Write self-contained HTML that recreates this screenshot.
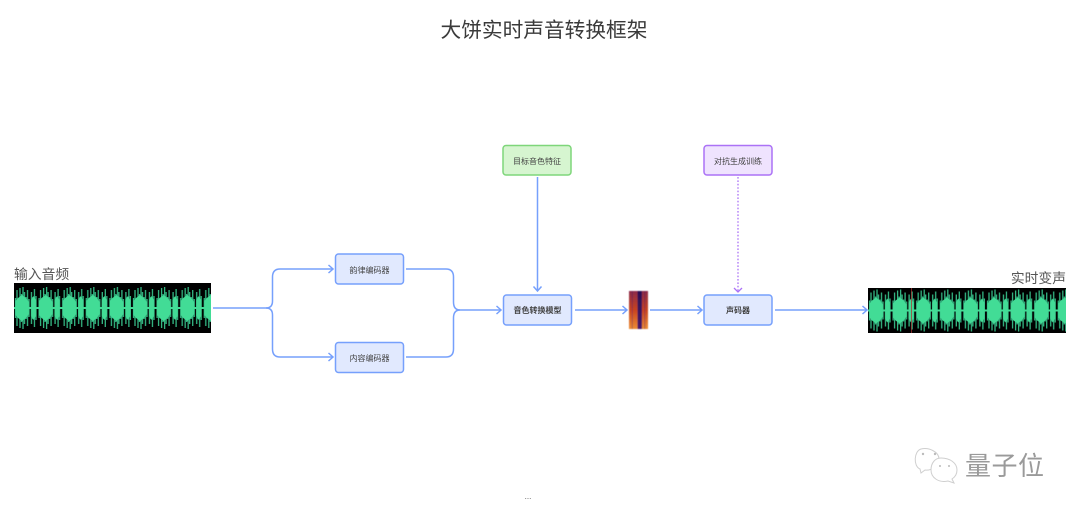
<!DOCTYPE html>
<html><head><meta charset="utf-8">
<style>
html,body{margin:0;padding:0;background:#fff;width:1080px;height:514px;overflow:hidden}
svg{display:block}
text{font-family:"Liberation Sans","Noto Sans CJK SC",sans-serif}
.n{font-size:8px;fill:#444;text-anchor:middle}
.c{fill:none;stroke:#76a0fc;stroke-width:1.5}
.b{fill:#e1e9fe;stroke:#76a0fc;stroke-width:1.5}
</style></head><body>
<svg width="1080" height="514" viewBox="0 0 1080 514" xmlns="http://www.w3.org/2000/svg">
<defs>
<filter id="bl" x="-5%" y="-5%" width="110%" height="110%"><feGaussianBlur stdDeviation="0.35"/></filter>
<filter id="bl2" x="-10%" y="-5%" width="120%" height="110%"><feGaussianBlur stdDeviation="0.5"/></filter>
<g id="burst">
<path d="M1.500 15V35M3 7V43M4.500 15V35M6 5V45M7.500 11V39M9 4V46M10.500 9V41M12 14V36M13.500 7V43M15 16V34M17.500 9V41M19 14V36M20.500 6V44M22 13V37" stroke="#34b884" stroke-width="1.300" fill="none"/>
<path d="M1.500 18L4 15L8 12L12 15L15 19V31L12 35L8 38L4 35L1.500 32ZM17 17L19.500 13L22 17V33L19.500 37L17 33Z" fill="#42dc96"/>
<rect y="24" width="24" height="2" fill="#42dc96"/>
</g>
<pattern id="w1" x="14" y="283" width="23.6" height="50" patternUnits="userSpaceOnUse">
<rect width="24" height="50" fill="#000"/>
<use href="#burst"/>
</pattern>
<pattern id="w2" x="868" y="285.500" width="23.6" height="50" patternUnits="userSpaceOnUse">
<rect width="24" height="50" fill="#000"/>
<use href="#burst"/>
</pattern>
<linearGradient id="s1" x1="0" y1="0" x2="0" y2="1"><stop offset="0" stop-color="#8c2a4a"/><stop offset=".5" stop-color="#c8441f"/><stop offset="1" stop-color="#ec8c34"/></linearGradient>
<linearGradient id="s2" x1="0" y1="0" x2="0" y2="1"><stop offset="0" stop-color="#2a1050"/><stop offset="1" stop-color="#4a1868"/></linearGradient>
</defs>

<text x="544" y="37" font-size="20.700" fill="#3a3a3a" text-anchor="middle">大饼实时声音转换框架</text>

<text x="14" y="279" font-size="13.800" fill="#555">输入音频</text>
<rect x="14" y="283" width="197" height="50" fill="url(#w1)" filter="url(#bl)"/>

<text x="1066" y="283" font-size="13.800" fill="#555" text-anchor="end">实时变声</text>
<rect x="868" y="288" width="198" height="45" fill="url(#w2)" filter="url(#bl)"/>
<rect x="911" y="288" width=".7" height="45" fill="#b03030"/>

<path class="c" d="M213 308H266Q272.500 308 272.500 301V277Q272.500 269 280 269H332"/>
<path class="c" d="M266 308Q272.500 308 272.500 315V349Q272.500 357 280 357H332"/>
<path class="c" d="M328.500 265L333 269L328.500 273M328.500 353L333 357L328.500 361"/>

<path class="c" d="M406 269H446Q453.500 269 453.500 277V302Q453.500 310 460 310H500"/>
<path class="c" d="M406 357H446Q453.500 357 453.500 349V318Q453.500 310 460 310"/>
<path class="c" d="M496.500 306L501 310L496.500 314"/>

<path class="c" d="M537.500 177V291M533.500 286.500L537.500 291L541.500 286.500"/>
<path class="c" d="M575 310H626M622.500 306L627 310L622.500 314"/>
<path class="c" d="M650 310H701M697.500 306L702 310L697.500 314"/>
<path class="c" d="M775 310H866M862.500 306L867 310L862.500 314"/>

<path d="M738 177V291" fill="none" stroke="#ab72f6" stroke-width="1.300" stroke-dasharray="1.600 1.800"/>
<path d="M734 288L738 292L742 288" fill="none" stroke="#ab72f6" stroke-width="1.300"/>

<rect class="b" x="335.500" y="254" width="68" height="30" rx="3"/>
<text class="n" x="369.500" y="273">韵律编码器</text>
<rect class="b" x="335.500" y="342.500" width="68" height="30" rx="3"/>
<text class="n" x="369.500" y="361">内容编码器</text>
<rect class="b" x="503.500" y="295" width="68" height="30" rx="3"/>
<text class="n" x="537.500" y="313" font-weight="bold">音色转换模型</text>
<rect class="b" x="704" y="295" width="68" height="30" rx="3"/>
<text class="n" x="738" y="313" font-weight="bold">声码器</text>
<rect x="503" y="145.500" width="68" height="29.500" rx="3" fill="#d6f5d0" stroke="#7ed67a" stroke-width="1.500"/>
<text class="n" x="537" y="164">目标音色特征</text>
<rect x="704" y="145.500" width="68" height="29.500" rx="3" fill="#efe3fe" stroke="#ab72f6" stroke-width="1.500"/>
<text class="n" x="738" y="164">对抗生成训练</text>

<g filter="url(#bl2)">
<rect x="629" y="291" width="19" height="38" fill="#3a1458"/>
<rect x="629" y="291" width="3" height="38" fill="url(#s1)"/>
<rect x="632.500" y="291" width="3" height="38" fill="url(#s1)"/>
<rect x="635.500" y="291" width="2" height="38" fill="url(#s1)"/>
<rect x="637.500" y="291" width="4" height="38" fill="url(#s2)"/>
<rect x="642" y="291" width="2.500" height="38" fill="url(#s1)"/>
<rect x="645" y="291" width="3" height="38" fill="url(#s1)"/>
</g>

<text x="528" y="499" font-size="8" fill="#555" text-anchor="middle">...</text>

<g fill="#fff" stroke="#cfcfcf" stroke-width="1">
<path d="M921 449C929 447 939 452 939 459C939 466 931 471 925 470L921 473L920 469C913 466 914 451 921 449Z"/>
<path d="M941 458C950 458 957 463 957 470C957 474 955 477 952 479L954 483L948 481C939 483 931 478 931 470C931 463 935 458 941 458Z"/>
</g>
<g fill="#bbb"><circle cx="923" cy="454" r="1.200"/><circle cx="935" cy="454" r="1.200"/><circle cx="940" cy="466" r="1"/><circle cx="949" cy="466" r="1"/></g>
<text x="965" y="475" font-size="26" fill="#9a9a9a" letter-spacing=".5">量子位</text>
</svg>
</body></html>
